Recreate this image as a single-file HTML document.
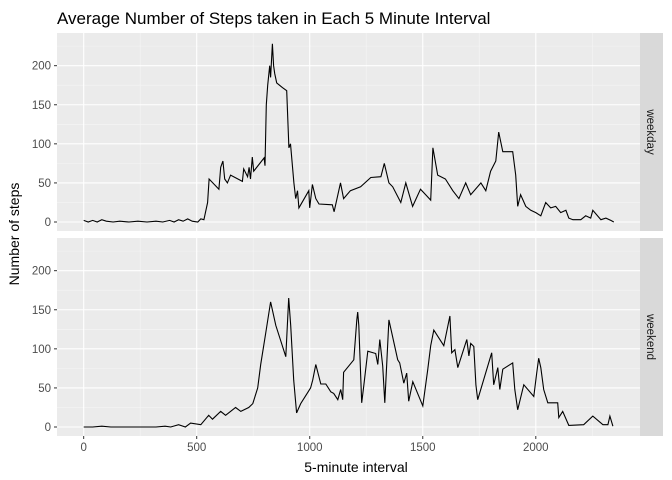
<!DOCTYPE html>
<html><head><meta charset="utf-8"><style>
body{margin:0;background:#fff;}
svg{display:block;font-family:"Liberation Sans",Arial,sans-serif;}
</style></head><body>
<svg id="chart" width="672" height="480" viewBox="0 0 672 480">
<text x="57" y="24" font-size="17" fill="#000">Average Number of Steps taken in Each 5 Minute Interval</text>
<text x="356" y="472" font-size="14" text-anchor="middle" fill="#000">5-minute interval</text>
<text transform="translate(19,234) rotate(-90)" font-size="14" text-anchor="middle" fill="#000">Number of steps</text>
<g id="panels"></g>
</svg>
<script>
const panelNames = ["weekday", "weekend"];
const xTicks = [0, 500, 1000, 1500, 2000];
const yTicks = [0, 50, 100, 150, 200];
const weekdayX = [0,20,40,60,80,100,130,160,200,240,280,320,350,380,400,420,440,460,480,505,518,532,548,555,598,606,616,624,636,650,702,708,725,732,738,746,752,798,802,808,814,823,827,835,840,845,854,879,898,908,915,930,938,946,952,996,1000,1012,1027,1041,1100,1108,1136,1150,1180,1225,1270,1315,1330,1350,1367,1403,1425,1455,1490,1513,1535,1545,1566,1600,1633,1660,1690,1712,1757,1779,1800,1823,1836,1854,1898,1911,1920,1933,1956,1978,2000,2022,2044,2066,2088,2110,2133,2146,2164,2199,2221,2243,2252,2288,2310,2332,2345];
const weekdayY = [2,0,2,0,3,1,0,1,0,1,0,1,0,2,0,3,1,4,1,0,4,3,25,55,42,70,78,55,50,60,52,68,58,70,55,83,65,82,72,150,175,200,185,228,200,190,178,172,168,95,100,50,30,40,18,40,18,48,30,23,22,13,50,30,40,45,57,58,75,50,45,25,50,20,42,35,28,95,60,55,40,30,50,35,50,40,65,78,115,90,90,60,20,35,20,15,12,8,25,18,20,12,15,5,3,3,8,5,15,3,5,2,0];
const weekendX = [0,40,80,120,160,200,240,280,320,360,385,420,450,473,518,553,570,606,628,672,695,730,748,770,783,805,827,850,872,894,907,916,929,942,960,982,1004,1013,1027,1049,1071,1093,1106,1124,1137,1146,1150,1195,1208,1212,1217,1230,1239,1257,1292,1301,1310,1323,1332,1350,1389,1398,1416,1429,1438,1456,1500,1522,1535,1549,1593,1620,1628,1642,1655,1695,1704,1712,1726,1735,1743,1805,1814,1832,1841,1854,1898,1907,1920,1947,1991,2004,2013,2022,2035,2053,2097,2102,2119,2146,2212,2252,2297,2319,2328,2341];
const weekendY = [0,0,1,0,0,0,0,0,0,1,0,3,0,5,3,15,10,20,15,25,20,25,30,50,80,120,160,130,110,90,165,130,60,18,30,40,50,60,80,55,55,45,43,35,48,35,70,86,137,147,130,31,53,97,94,80,112,78,31,137,86,82,56,69,33,58,27,73,104,124,104,142,95,99,76,112,91,107,103,54,35,95,54,76,48,74,82,48,22,54,39,69,88,76,48,31,31,12,20,2,3,14,3,3,14,1];
const seriesX = [weekdayX, weekendX];
const seriesY = [weekdayY, weekendY];

const NS = "http://www.w3.org/2000/svg";
const PL = 57, PR = 640, SW = 23;
const panelTops = [33, 238], PH = 198;
const xMin = -118, xMax = 2461, yMin = -11.5, yMax = 241.8;
function xs(v){ return PL + (v - xMin) / (xMax - xMin) * (PR - PL); }
function ys(v, top){ return top + PH - (v - yMin) / (yMax - yMin) * PH; }
function mk(tag, attrs, parent){ const e = document.createElementNS(NS, tag); for (const k in attrs) e.setAttribute(k, attrs[k]); parent.appendChild(e); return e; }
const root = document.getElementById("panels");

panelNames.forEach((name, p) => {
  const top = panelTops[p];
  const g = mk("g", {}, root);
  
  
  const bg = mk("rect", {x: PL, y: top, width: PR - PL, height: PH, fill: "#ebebeb"}, g);
  
  
  for (let i = 0; i < yTicks.length; i++) {
    const mv = yTicks[i] + 25;
    if (i < yTicks.length - 1 || mv < yMax) mk("line", {x1: PL, x2: PR, y1: ys(mv, top), y2: ys(mv, top), stroke: "#f5f5f5", "stroke-width": 0.6}, g);
  }
  for (let i = 0; i < xTicks.length; i++) {
    const mv = xTicks[i] + 250;
    if (mv < xMax) mk("line", {x1: xs(mv), x2: xs(mv), y1: top, y2: top + PH, stroke: "#f5f5f5", "stroke-width": 0.6}, g);
  }
  yTicks.forEach(t => {
    const gl = mk("line", {x1: PL, x2: PR, y1: ys(t, top), y2: ys(t, top), stroke: "#fff", "stroke-width": 1.1}, g);
    
    
    mk("line", {x1: PL - 3, x2: PL, y1: ys(t, top), y2: ys(t, top), stroke: "#333", "stroke-width": 1}, g);
    const tl = mk("text", {x: PL - 6, y: ys(t, top) + 4, "font-size": 11.5, "text-anchor": "end", fill: "#4d4d4d"}, g);
    tl.textContent = t;
    
    
  });
  xTicks.forEach(t => {
    const gl = mk("line", {x1: xs(t), x2: xs(t), y1: top, y2: top + PH, stroke: "#fff", "stroke-width": 1.1}, g);
    
    
  });
  const pts = seriesX[p].map((x, i) => xs(x).toFixed(1) + "," + ys(seriesY[p][i], top).toFixed(1)).join(" ");
  const line = mk("polyline", {points: pts, fill: "none", stroke: "#000", "stroke-width": 1.1}, g);
  
  
  const strip = mk("rect", {x: PR, y: top, width: SW, height: PH, fill: "#d9d9d9"}, g);
  
  
  const st = mk("text", {transform: "translate(" + (PR + 7) + "," + (top + PH / 2) + ") rotate(90)", "font-size": 11.5, "text-anchor": "middle", fill: "#1a1a1a"}, g);
  st.textContent = name;
  
  
});
const bottom = panelTops[1] + PH;
xTicks.forEach(t => {
  mk("line", {x1: xs(t), x2: xs(t), y1: bottom, y2: bottom + 3, stroke: "#333", "stroke-width": 1}, root);
  const tl = mk("text", {x: xs(t), y: bottom + 15, "font-size": 11.5, "text-anchor": "middle", fill: "#4d4d4d"}, root);
  tl.textContent = t;
  
  
});
</script>
</body></html>
